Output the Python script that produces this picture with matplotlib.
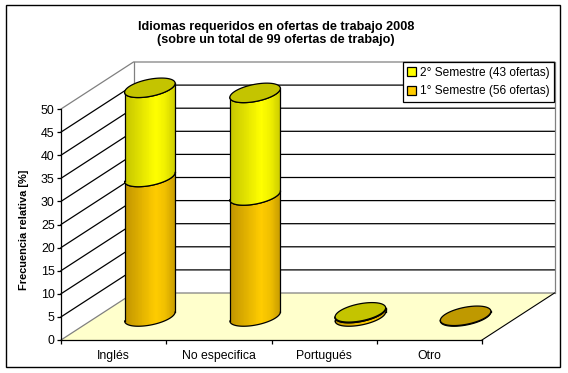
import numpy as np
import matplotlib
matplotlib.use("Agg")
import matplotlib.pyplot as plt
from matplotlib.colors import LinearSegmentedColormap
from matplotlib.patches import Rectangle, Patch, Polygon

categories = ["Inglés", "No especifica", "Portugués", "Otro"]
sem1 = [30.2, 26.2, 0.75, 0.15]
sem2 = [19.3, 22.2, 0.15, 0.0]
yticks = [0, 5, 10, 15, 20, 25, 30, 35, 40, 45, 50]
title = "Idiomas requeridos en ofertas de trabajo 2008\n(sobre un total de 99 ofertas de trabajo)"
ylabel = "Frecuencia relativa [%]"
legend_labels = ["2° Semestre (43 ofertas)", "1° Semestre (56 ofertas)"]

plt.rcParams["font.family"] = ["Liberation Sans", "DejaVu Sans"]
W, H = 568, 373
fig = plt.figure(figsize=(W / 100, H / 100), dpi=100, facecolor="white")
fig.add_artist(Rectangle((5.5 / W, 1 - 367 / H), 554.5 / W, 362 / H, transform=fig.transFigure,
                         fc="white", ec="black", lw=1.0, zorder=-5))
ax = fig.add_axes([61 / W, 1 - 340 / H, 421 / W, 231 / H])
ax.patch.set_alpha(0)
ax.set_xlim(0, 4)
ax.set_ylim(0, 50)
DX, DY = 72.5 / 105.25, 47 / 4.62
GRAY = "#808080"

# floor and walls
ax.add_patch(Polygon([(0, 0), (4, 0), (4 + DX, DY), (DX, DY)], fc="#FFFFCC", ec="none", zorder=0, clip_on=False))
for v in yticks:
    c = GRAY if v in (0, 50) else "black"
    ax.plot([0, DX, 4 + DX], [v, v + DY, v + DY], color=c, lw=0.9, zorder=1, clip_on=False, solid_joinstyle="miter")
ax.plot([DX, DX], [DY, 50 + DY], color=GRAY, lw=0.9, zorder=1, clip_on=False)
ax.plot([4 + DX, 4 + DX], [DY, 50 + DY], color=GRAY, lw=0.9, zorder=1, clip_on=False)
ax.plot([4, 4 + DX], [0, DY], color="black", lw=0.8, zorder=1, clip_on=False)

# cylinders
A, Bx, By = 22.4 / 105.25, 11.66 / 105.25, 9.75 / 4.62
t0 = np.arctan2(Bx, A)
t_front = np.linspace(t0 - np.pi, t0, 90)
t_all = np.linspace(0, 2 * np.pi, 160)
cm1 = LinearSegmentedColormap.from_list("o", [(0, "#C09400"), (0.62, "#FFCC00"), (0.8, "#F0C000"), (1, "#C89C00")])
cm2 = LinearSegmentedColormap.from_list("y", [(0, "#C4C400"), (0.62, "#FFFF00"), (0.8, "#F0F000"), (1, "#CCCC00")])
CAP1, CAP2 = "#BF9900", "#C4C400"


def ex(cx, t):
    return cx + A * np.cos(t) + Bx * np.sin(t)


def ey(cy, t):
    return cy + By * np.sin(t)


def segment(cx, y0, y1, cmap, z):
    if y1 <= y0:
        return
    x = ex(cx, t_front)
    X = np.vstack([x, x])
    Y = np.vstack([ey(y0, t_front), ey(y1, t_front)])
    C = ((x[:-1] + x[1:]) / 2 - x.min()) / (x.max() - x.min())
    ax.pcolormesh(X, Y, C[None, :], cmap=cmap, vmin=0, vmax=1, shading="flat", zorder=z, clip_on=False,
                  rasterized=True, linewidth=0)
    ax.plot(x, ey(y0, t_front), color="black", lw=0.9, zorder=z + 0.3, clip_on=False)
    ax.plot(x, ey(y1, t_front), color="black", lw=0.9, zorder=z + 0.3, clip_on=False)
    for i in (0, -1):
        ax.plot([x[i], x[i]], [ey(y0, t_front[i]), ey(y1, t_front[i])], color="black", lw=0.9,
                zorder=z + 0.3, clip_on=False)


for i, (s1, s2) in enumerate(zip(sem1, sem2)):
    cx = i + 0.5 + DX / 2
    base = DY / 2
    segment(cx, base, base + s1, cm1, 3)
    segment(cx, base + s1, base + s1 + s2, cm2, 4)
    top = base + s1 + s2
    ax.fill(ex(cx, t_all), ey(top, t_all), fc=CAP2 if s2 > 0 else CAP1, ec="black", lw=0.9, zorder=5, clip_on=False)

# axes
for s in ("top", "right"):
    ax.spines[s].set_visible(False)
for s in ("left", "bottom"):
    ax.spines[s].set_linewidth(0.9)
    ax.spines[s].set_zorder(2)
ax.set_yticks(yticks)
ax.set_xticks(range(5))
ax.set_xticklabels([])
ax.set_xticks(np.arange(4) + 0.5, labels=categories, minor=True)
ax.tick_params(axis="x", which="minor", length=0, pad=7, labelsize=8.8)
ax.tick_params(axis="x", which="major", length=3, width=0.9)
ax.tick_params(axis="y", length=3, width=0.9, pad=1.5, labelsize=8.9)
fig.text(24 / W, 1 - 230 / H, ylabel, rotation=90, ha="center", va="center", fontsize=7.9, fontweight="bold")
fig.text(276 / W, 1 - 33.5 / H, title, ha="center", va="center", fontsize=9.1, fontweight="bold", linespacing=1.2)

handles = [Patch(fc="#FFFF00", ec="black", lw=0.9), Patch(fc="#FFCC00", ec="black", lw=0.9)]
leg = ax.legend(handles, legend_labels, loc="upper left", bbox_to_anchor=(402.5 / W, 1 - 62 / H),
                bbox_transform=fig.transFigure, fancybox=False, framealpha=1, edgecolor="black",
                fontsize=8.6, borderaxespad=0, borderpad=0.4, labelspacing=0.55,
                handlelength=0.75, handleheight=0.75, handletextpad=0.3)
leg.get_frame().set_linewidth(0.9)
leg.set_zorder(10)
fig.savefig("out.png", dpi=100)
